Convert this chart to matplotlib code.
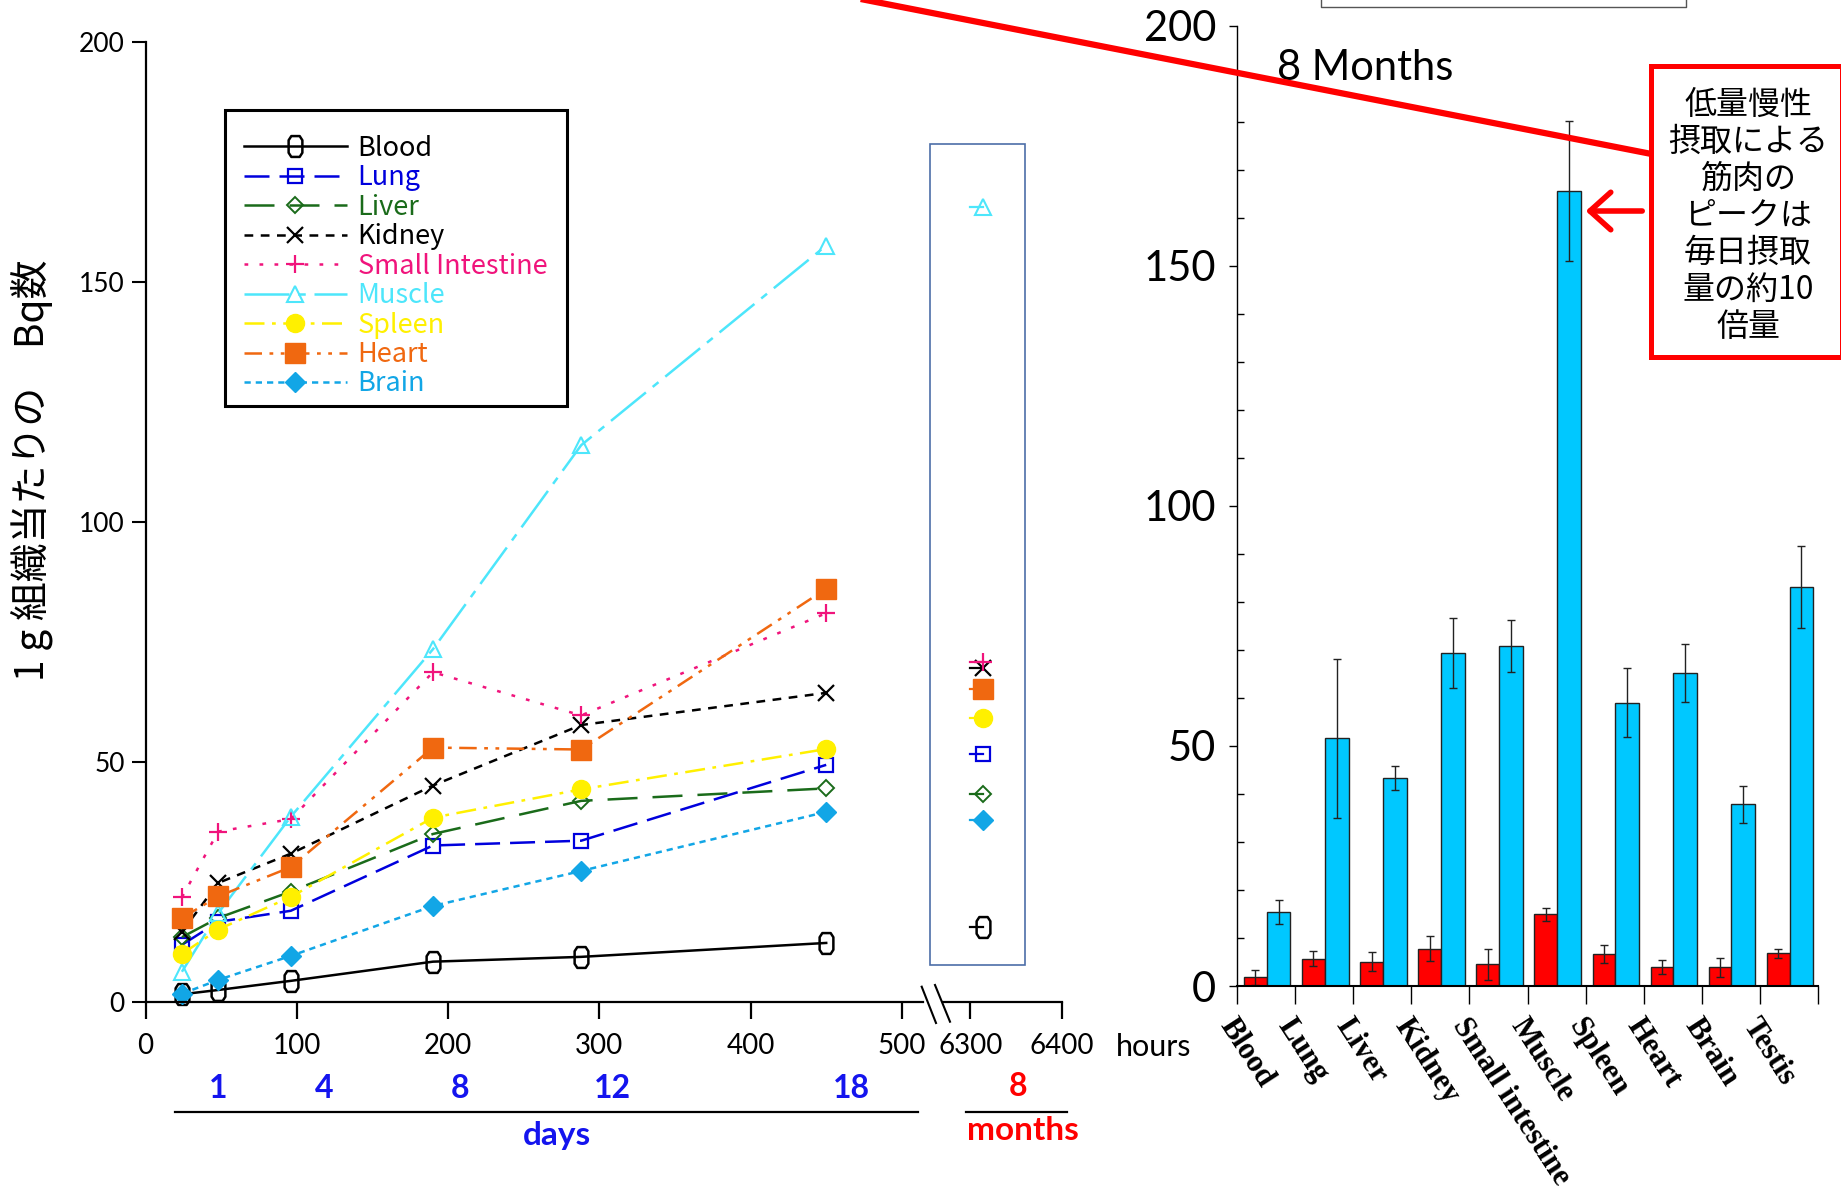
import matplotlib
matplotlib.use('Agg')
import matplotlib.pyplot as plt
import numpy as np
from matplotlib.path import Path
from matplotlib.patches import Rectangle, FancyArrowPatch
from matplotlib.lines import Line2D
import matplotlib.transforms as mtransforms
from matplotlib.ticker import MultipleLocator
from matplotlib.font_manager import FontProperties

# ---------------- data ----------------
hours = [24, 48, 96, 190, 288, 450]
organs = ['Blood', 'Lung', 'Liver', 'Kidney', 'Small Intestine',
          'Muscle', 'Spleen', 'Heart', 'Brain']
blood = [1.5, 2.4, 4.3, 8.3, 9.3, 12.2]
lung = [11.8, 16.6, 18.9, 32.5, 33.5, 49.3]
liver = [13.4, 17.4, 22.9, 34.9, 41.8, 44.4]
kidney = [14.5, 24.7, 30.8, 45.0, 57.6, 64.3]
small_intestine = [21.7, 35.4, 38.0, 68.6, 59.6, 80.9]
muscle = [6.2, 18.4, 38.5, 73.4, 115.9, 157.5]
spleen = [9.9, 15.0, 21.8, 38.3, 44.2, 52.6]
heart = [17.4, 21.9, 28.0, 52.9, 52.5, 86.0]
brain = [1.6, 4.5, 9.5, 19.9, 27.2, 39.5]
series = [blood, lung, liver, kidney, small_intestine, muscle, spleen, heart, brain]

month8_hour = 6314
month8_stub = 6300

x_ticks_left = [0, 100, 200, 300, 400, 500]
x_ticks_break = [6300, 6400]
y_ticks = [0, 50, 100, 150, 200]
day_labels = ['1', '4', '8', '12', '18']

bar_cats = ['Blood', 'Lung', 'Liver', 'Kidney', 'Small intestine', 'Muscle',
            'Spleen', 'Heart', 'Brain', 'Testis']
red_vals = [1.8, 5.7, 5.1, 7.8, 4.5, 14.9, 6.6, 3.9, 3.9, 6.8]
red_err = [1.6, 1.5, 1.9, 2.6, 3.3, 1.3, 1.9, 1.5, 2.0, 1.0]
blue_vals = [15.5, 51.6, 43.3, 69.4, 70.8, 165.6, 59.0, 65.2, 37.8, 83.1]
blue_err = [2.5, 16.6, 2.5, 7.3, 5.4, 14.6, 7.2, 6.1, 3.8, 8.5]
month8_vals = blue_vals[:9]

note_text = "低量慢性\n摂取による\n筋肉の\nピークは\n毎日摂取\n量の約10\n倍量"
ylabel_text = "1 g 組織当たりの　Bq数"

# ---------------- styles ----------------
blood_marker = Path([(-0.2, 0.5), (0.2, 0.5), (0.33, 0.3), (0.33, -0.3), (0.2, -0.5),
                     (-0.2, -0.5), (-0.33, -0.3), (-0.33, 0.3), (-0.2, 0.5)], closed=True)
styles = [
    dict(color='black', ls='-', marker=blood_marker, ms=15, mfc='none', mew=1.8),
    dict(color='#0000dd', ls=(0, (10, 4)), marker='s', ms=10, mfc='none', mew=1.6),
    dict(color='#1a6b1a', ls=(0, (12, 6)), marker='D', ms=8, mfc='none', mew=1.4),
    dict(color='black', ls=(0, (3.5, 3)), marker='x', ms=11, mew=1.6),
    dict(color='#f0147c', ls=(0, (1.5, 4.5)), marker='+', ms=13, mew=1.6),
    dict(color='#4de6fb', ls=(0, (18, 3.5, 3, 3.5)), marker='^', ms=11, mfc='none', mew=1.5),
    dict(color='#fff000', ls=(0, (8, 3, 1.5, 3)), marker='o', ms=13, mfc='#fff000', mew=1),
    dict(color='#f06810', ls=(0, (7, 3, 1.5, 3, 1.5, 3)), marker='s', ms=14, mfc='#f06810', mew=1),
    dict(color='#12a6e6', ls=(0, (2.5, 2)), marker='D', ms=10, mfc='#12a6e6', mew=1),
]

W, H, DPI = 1841, 1194, 100
fig = plt.figure(figsize=(W / DPI, H / DPI), dpi=DPI)


def fx(px):
    return px / W


def fy(py):
    return 1 - py / H


LAT = 'Lato'
CJK = ['Noto Sans CJK JP', 'DejaVu Sans']

# ---------------- left line chart ----------------
ax1 = fig.add_axes([fx(145.6), fy(1001.5), (923 - 145.6) / W, 960 / H])
ax1.set_xlim(0, 514)
ax1.set_ylim(0, 200)
handles = []
for name, vals, st in zip(organs, series, styles):
    ln, = ax1.plot(hours, vals, lw=1.8, clip_on=False, label=name, **st)
    handles.append(ln)
for s in ['top', 'right']:
    ax1.spines[s].set_visible(False)
for s in ['left', 'bottom']:
    ax1.spines[s].set_linewidth(1.6)
ax1.set_yticks(y_ticks)
ax1.set_xticks(x_ticks_left)
ax1.tick_params(axis='y', direction='out', length=10, width=1.5, pad=5, labelsize=19)
ax1.tick_params(axis='x', direction='out', length=12, width=1.6, pad=11, labelsize=20)
for lab in ax1.get_xticklabels() + ax1.get_yticklabels():
    lab.set_fontfamily(LAT)

leg = ax1.legend(handles=handles, loc='upper left', bbox_to_anchor=(fx(225), fy(116)),
                 bbox_transform=fig.transFigure, borderaxespad=0, frameon=False,
                 prop=FontProperties(family=CJK, size=19.5), handlelength=3.8,
                 handletextpad=0.4, labelspacing=0.09, borderpad=0.7, numpoints=1)
for txt, st in zip(leg.get_texts(), styles):
    txt.set_color(st['color'])
# legend frame
fig.add_artist(Rectangle((fx(225), fy(406)), (567 - 225) / W, (406 - 110) / H,
                         transform=fig.transFigure, fill=False, ec='black', lw=2.2))

# ---------------- 8 month break axis ----------------
ax2 = fig.add_axes([fx(943), fy(1001.5), (1061.7 - 943) / W, 960 / H])
ax2.set_xlim(6270, 6400)
ax2.set_ylim(0, 200)
ax2.patch.set_visible(False)
for s in ['top', 'right', 'left']:
    ax2.spines[s].set_visible(False)
ax2.spines['bottom'].set_linewidth(1.6)
ax2.set_yticks([])
ax2.set_xticks(x_ticks_break)
ax2.tick_params(axis='x', direction='out', length=12, width=1.6, pad=11, labelsize=20)
for lab in ax2.get_xticklabels():
    lab.set_fontfamily(LAT)
for v, st in zip(month8_vals, styles):
    st2 = dict(st)
    st2['ls'] = '-'
    ax2.plot([month8_stub, month8_hour], [v, v], lw=1.6, markevery=[1], clip_on=False, **st2)

# box around 8-month points
fig.add_artist(Rectangle((fx(930), fy(965)), 95 / W, 821 / H, transform=fig.transFigure,
                         fill=False, ec='#4d6ea8', lw=1.2))
# break marks
for (x0, y0, x1, y1) in [(921.7, 986.7, 936, 1023), (935, 985, 950, 1021.7)]:
    fig.add_artist(Line2D([fx(x0), fx(x1)], [fy(y0), fy(y1)], color='black', lw=1.5,
                          transform=fig.transFigure))

# day / month labels
day_px = [218, 324, 460, 612, 851]
for lab, px in zip(day_labels, day_px):
    fig.text(fx(px), fy(1088), lab, ha='center', va='center', color='#1414ee',
             fontsize=23, fontweight='bold', family=LAT)
fig.text(fx(1018.5), fy(1087), '8', ha='center', va='center', color='#ff0000',
         fontsize=23, fontweight='bold', family=LAT)
fig.add_artist(Line2D([fx(175), fx(918)], [fy(1112), fy(1112)], color='black', lw=1.6,
                      transform=fig.transFigure))
fig.add_artist(Line2D([fx(966), fx(1067)], [fy(1112), fy(1112)], color='black', lw=1.6,
                      transform=fig.transFigure))
fig.text(fx(557), fy(1136), 'days', ha='center', va='center', color='#1414ee',
         fontsize=24, fontweight='bold', family=LAT)
fig.text(fx(1022.5), fy(1131), 'months', ha='center', va='center', color='#ff0000',
         fontsize=24, fontweight='bold', family=LAT)
fig.text(fx(1116), fy(1047), 'hours', ha='left', va='center', fontsize=22, family=LAT)

fig.text(fx(32), fy(470), ylabel_text, rotation=90, ha='center', va='center',
         fontsize=28, family=CJK)

# ---------------- right bar chart ----------------
ax3 = fig.add_axes([fx(1237), fy(986), (1818 - 1237) / W, (986 - 25.6) / H])
xi = np.arange(len(bar_cats))
ax3.bar(xi - 0.185, red_vals, width=0.39, color='#ff0000', edgecolor='#222222', lw=1)
ax3.bar(xi + 0.215, blue_vals, width=0.41, color='#00c8ff', edgecolor='#222222', lw=1)
ax3.errorbar(xi - 0.185, red_vals, yerr=red_err, fmt='none', ecolor='#222222',
             elinewidth=1, capsize=3, capthick=1)
ax3.errorbar(xi + 0.215, blue_vals, yerr=blue_err, fmt='none', ecolor='#222222',
             elinewidth=1, capsize=3, capthick=1)
ax3.set_xlim(-0.5, len(bar_cats) - 0.5)
ax3.set_ylim(0, 200)
ax3.patch.set_visible(False)
for s in ['top', 'right']:
    ax3.spines[s].set_visible(False)
ax3.spines['left'].set_linewidth(1.0)
ax3.spines['bottom'].set_linewidth(1.5)
ax3.set_xticks(np.arange(-0.5, len(bar_cats), 1))
ax3.set_xticklabels([])
ax3.tick_params(axis='x', direction='out', length=13, width=1)
ax3.set_yticks(y_ticks)
ax3.yaxis.set_minor_locator(MultipleLocator(10))
ax3.tick_params(axis='y', which='major', direction='out', length=6, width=1, pad=9,
                labelsize=30)
ax3.tick_params(axis='y', which='minor', direction='in', length=5, width=1)
for lab in ax3.get_yticklabels():
    lab.set_fontfamily(LAT)
lab_tr = mtransforms.offset_copy(ax3.get_xaxis_transform(), fig=fig, x=-28, y=-27,
                                 units='dots')
for i, name in enumerate(bar_cats):
    ax3.text(i, 0, name, transform=lab_tr, rotation=-57, rotation_mode='anchor',
             ha='left', va='top', fontsize=22, fontweight='bold', family='Liberation Serif')

fig.text(fx(1277), fy(68), '8 Months', ha='left', va='center', fontsize=30, family=LAT)

# annotation box
fig.add_artist(Rectangle((fx(1651), fy(357)), (1842 - 1651) / W, (357 - 66) / H,
                         transform=fig.transFigure, fill=False, ec='#ff0000', lw=3.6,
                         zorder=5))
fig.text(fx(1748), fy(216), note_text, ha='center', va='center', multialignment='center',
         fontsize=23, linespacing=1.2, family=CJK)
fig.add_artist(FancyArrowPatch((fx(1645), fy(211)), (fx(1583), fy(211)),
                               transform=fig.transFigure,
                               arrowstyle='->,head_length=0.5,head_width=0.45',
                               mutation_scale=30, lw=4, color='#ff0000', zorder=5))
# long red line
fig.add_artist(Line2D([fx(850), fx(1650)], [fy(-3.1), fy(153.7)], color='#ff0000', lw=4.5,
                      transform=fig.transFigure, zorder=6, solid_capstyle='butt'))
# partial box at top
fig.add_artist(Line2D([fx(1321), fx(1321), fx(1686), fx(1686)],
                      [fy(-5), fy(6.5), fy(6.5), fy(-5)], color='#555555', lw=1,
                      transform=fig.transFigure))

fig.savefig('out.png', dpi=DPI)
